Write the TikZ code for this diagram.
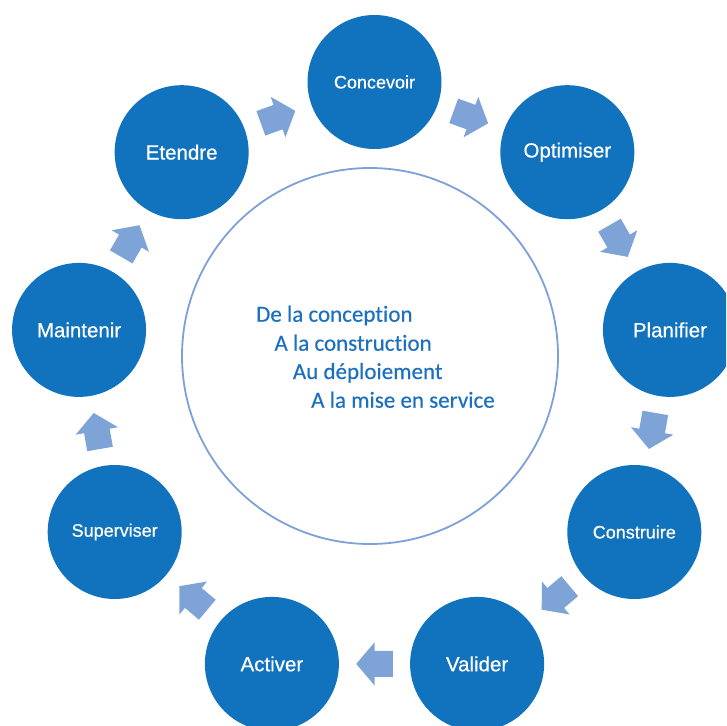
\documentclass[tikz,border=0pt]{standalone}
\usepackage{fontspec}
\setmainfont{Liberation Sans}
\newfontfamily\labfont[UprightFeatures={FakeBold=0.6}]{Liberation Sans}
\newfontfamily\calib[Ligatures=NoCommon,UprightFeatures={FakeBold=0.4}]{Carlito}
\usetikzlibrary{calc}
\definecolor{bubblefill}{RGB}{17,114,190}
\definecolor{arrowfill}{RGB}{126,163,215}
\definecolor{ringline}{RGB}{124,160,215}
\definecolor{centertext}{RGB}{28,112,192}
\begin{document}
\begin{tikzpicture}[x=1pt,y=1pt,
  bubble/.style={circle,fill=bubblefill,minimum size=134pt,inner sep=0pt,text=white},
  bigtext/.style={font=\labfont\fontsize{20.5}{24}\selectfont},
  smalltext/.style={font=\labfont\fontsize{18}{22}\selectfont},
  hub/.style={circle,draw=ringline,line width=1.8pt,minimum size=376pt,inner sep=0pt},
  centerline/.style={anchor=base west,text=centertext,font=\calib\fontsize{23}{28}\selectfont,inner sep=0pt},
  blockarrow/.pic={\fill[arrowfill] (18.3,0) -- (0,21.5) -- (0,13) -- (-18.3,13) -- (-18.3,-13) -- (0,-13) -- (0,-21.5) -- cycle;}
]
\clip (0,0) rectangle (726,-726);
\coordinate (ring) at (374.5,-382);
\node[hub] (hub) at (370,-356) {};
\foreach \name/\label/\sz [count=\k from 0] in {concevoir/Concevoir/smalltext, optimiser/Optimiser/bigtext, planifier/Planifier/bigtext, construire/Construire/smalltext, valider/Valider/bigtext, activer/Activer/bigtext, superviser/Superviser/smalltext, maintenir/Maintenir/bigtext, etendre/Etendre/bigtext}
  \node[bubble,\sz] (\name) at ($(ring)+({90-40*\k}:300pt)$) {\label};
\foreach \a/\b [count=\k from 0] in {concevoir/optimiser, optimiser/planifier, planifier/construire, construire/valider, valider/activer, activer/superviser, superviser/maintenir, maintenir/etendre, etendre/concevoir}
  \pic[rotate={-20-40*\k}] at ($(\a)!0.5!(\b)$) {blockarrow};
\node[centerline] (l1) at (256,-321.7) {De la conception};
\node[centerline] (l2) at (274.3,-350.7) {A la construction};
\node[centerline] (l3) at (292.7,-379) {Au déploiement};
\node[centerline] (l4) at (311,-407.7) {A la mise en service};
\end{tikzpicture}
\end{document}
